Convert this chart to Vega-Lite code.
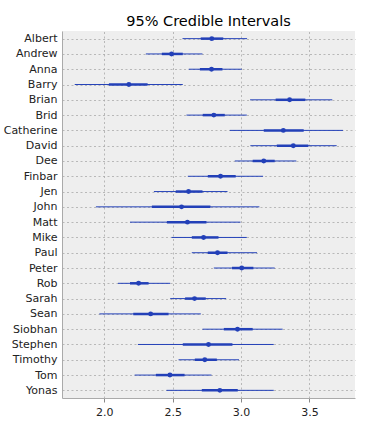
{
  "$schema": "https://vega.github.io/schema/vega-lite/v6.json",
  "width": 293,
  "height": 367,
  "autosize": "none",
  "padding": {"left": 62, "top": 31, "right": 21, "bottom": 27},
  "background": "white",
  "title": {"text": "95% Credible Intervals", "font": "DejaVu Sans", "fontSize": 14.5, "fontWeight": "normal", "color": "#000000", "offset": 2},
  "config": {
    "view": {"fill": "#eeeeee", "stroke": null},
    "axis": {"labelFont": "DejaVu Sans", "labelFontSize": 11, "labelColor": "#222222", "grid": true, "gridColor": "#aaaaaa", "gridDash": [2, 2.5], "gridWidth": 0.8, "domainColor": "#aaaaaa", "tickColor": "#888888", "title": null}
  },
  "data": {"values": [
    {"name": "Albert", "lo": 2.572, "q1": 2.705, "med": 2.786, "q3": 2.87, "hi": 3.044},
    {"name": "Andrew", "lo": 2.304, "q1": 2.421, "med": 2.492, "q3": 2.574, "hi": 2.718},
    {"name": "Anna", "lo": 2.618, "q1": 2.699, "med": 2.784, "q3": 2.864, "hi": 3.005},
    {"name": "Barry", "lo": 1.784, "q1": 2.034, "med": 2.18, "q3": 2.317, "hi": 2.574},
    {"name": "Brian", "lo": 3.066, "q1": 3.253, "med": 3.355, "q3": 3.47, "hi": 3.667},
    {"name": "Brid", "lo": 2.601, "q1": 2.72, "med": 2.801, "q3": 2.881, "hi": 3.042},
    {"name": "Catherine", "lo": 2.918, "q1": 3.166, "med": 3.309, "q3": 3.458, "hi": 3.745},
    {"name": "David", "lo": 3.068, "q1": 3.261, "med": 3.382, "q3": 3.492, "hi": 3.699},
    {"name": "Dee", "lo": 2.954, "q1": 3.085, "med": 3.166, "q3": 3.246, "hi": 3.404},
    {"name": "Finbar", "lo": 2.611, "q1": 2.757, "med": 2.85, "q3": 2.961, "hi": 3.161},
    {"name": "Jen", "lo": 2.363, "q1": 2.523, "med": 2.616, "q3": 2.718, "hi": 2.901},
    {"name": "John", "lo": 1.939, "q1": 2.348, "med": 2.565, "q3": 2.776, "hi": 3.134},
    {"name": "Matt", "lo": 2.188, "q1": 2.458, "med": 2.608, "q3": 2.747, "hi": 2.996},
    {"name": "Mike", "lo": 2.492, "q1": 2.64, "med": 2.726, "q3": 2.835, "hi": 3.042},
    {"name": "Paul", "lo": 2.64, "q1": 2.757, "med": 2.828, "q3": 2.901, "hi": 3.117},
    {"name": "Peter", "lo": 2.801, "q1": 2.934, "med": 3.005, "q3": 3.09, "hi": 3.246},
    {"name": "Rob", "lo": 2.1, "q1": 2.188, "med": 2.251, "q3": 2.324, "hi": 2.482},
    {"name": "Sarah", "lo": 2.482, "q1": 2.591, "med": 2.66, "q3": 2.742, "hi": 2.891},
    {"name": "Sean", "lo": 1.964, "q1": 2.212, "med": 2.339, "q3": 2.47, "hi": 2.706},
    {"name": "Siobhan", "lo": 2.718, "q1": 2.874, "med": 2.974, "q3": 3.085, "hi": 3.304},
    {"name": "Stephen", "lo": 2.246, "q1": 2.574, "med": 2.762, "q3": 2.937, "hi": 3.239},
    {"name": "Timothy", "lo": 2.543, "q1": 2.662, "med": 2.735, "q3": 2.823, "hi": 2.985},
    {"name": "Tom", "lo": 2.222, "q1": 2.377, "med": 2.48, "q3": 2.587, "hi": 2.784},
    {"name": "Yonas", "lo": 2.455, "q1": 2.713, "med": 2.845, "q3": 2.976, "hi": 3.239}
  ]},
  "encoding": {
    "y": {"field": "name", "type": "nominal", "sort": null, "scale": {"type": "point", "padding": 0.5},
          "axis": {"ticks": false, "labelPadding": 5, "domain": true}}
  },
  "layer": [
    {"mark": {"type": "rule", "color": "#2340b8", "strokeWidth": 1},
     "encoding": {"x": {"field": "lo", "type": "quantitative", "scale": {"domain": [1.691, 3.833], "nice": false, "zero": false},
                        "axis": {"values": [2.0, 2.5, 3.0, 3.5], "format": ".1f", "tickSize": 4, "labelPadding": 4}},
                  "x2": {"field": "hi"}}},
    {"mark": {"type": "rule", "color": "#2340b8", "strokeWidth": 2.5},
     "encoding": {"x": {"field": "q1", "type": "quantitative"}, "x2": {"field": "q3"}}},
    {"mark": {"type": "point", "filled": true, "color": "#2340b8", "opacity": 1, "size": 24},
     "encoding": {"x": {"field": "med", "type": "quantitative"}}}
  ]
}
